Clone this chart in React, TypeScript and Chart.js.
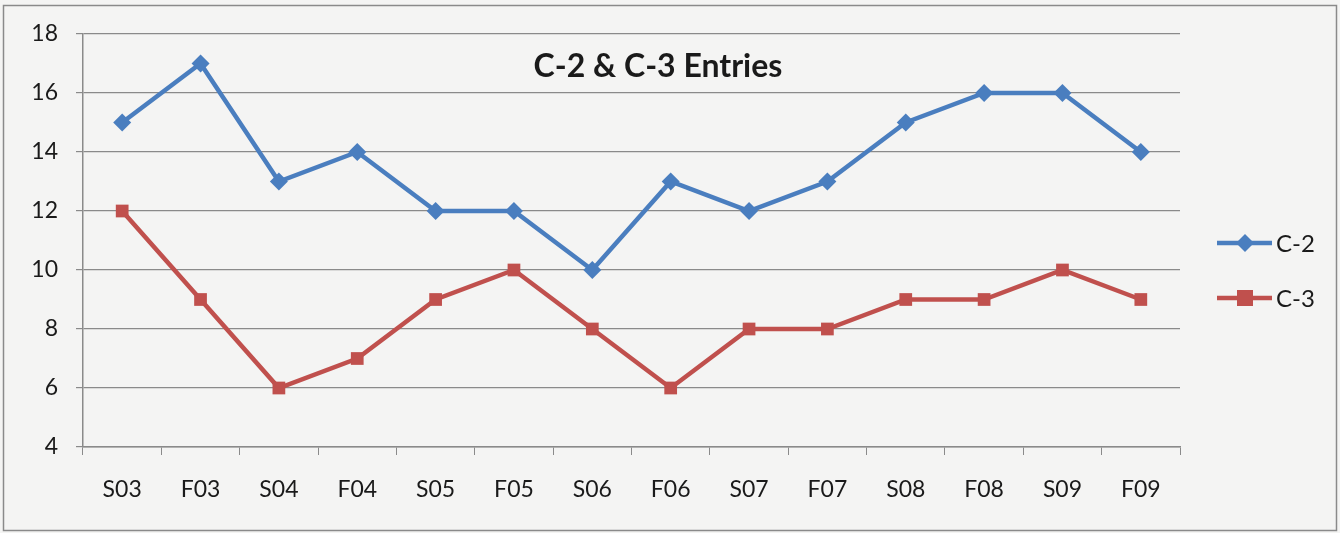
import React, { useEffect, useRef } from "react";
import { Chart, registerables } from "chart.js";

Chart.register(...registerables);

const categories = ["S03", "F03", "S04", "F04", "S05", "F05", "S06", "F06", "S07", "F07", "S08", "F08", "S09", "F09"];
const c2Values = [15, 17, 13, 14, 12, 12, 10, 13, 12, 13, 15, 16, 16, 14];
const c3Values = [12, 9, 6, 7, 9, 10, 8, 6, 8, 8, 9, 9, 10, 9];
const yTicks = [4, 6, 8, 10, 12, 14, 16, 18];
const titleText = "C-2 & C-3 Entries";
const seriesNames = ["C-2", "C-3"];

const FONT = "Lato, 'Open Sans', sans-serif";
const BLUE = "#4A7EBF";
const RED = "#C0504D";

const decorPlugin = {
  id: "decor",
  beforeDraw(chart: any) {
    const { ctx, width, height } = chart;
    ctx.save();
    ctx.fillStyle = "#f4f4f3";
    ctx.fillRect(0, 0, width, height);
    ctx.strokeStyle = "#8a8a8a";
    ctx.lineWidth = 1.5;
    ctx.strokeRect(3.5, 5.5, width - 7, height - 8);
    ctx.restore();
  },
  afterDraw(chart: any) {
    const { ctx } = chart;
    ctx.save();
    ctx.fillStyle = "#1a1a1a";
    ctx.font = `bold 32px ${FONT}`;
    ctx.textAlign = "center";
    ctx.textBaseline = "middle";
    ctx.fillText(titleText, 658, 67);

    const items = [
      { name: seriesNames[0], color: BLUE, y: 243, shape: "diamond" },
      { name: seriesNames[1], color: RED, y: 298, shape: "square" },
    ];
    for (const it of items) {
      ctx.strokeStyle = it.color;
      ctx.lineWidth = 4.5;
      ctx.beginPath();
      ctx.moveTo(1217, it.y);
      ctx.lineTo(1272, it.y);
      ctx.stroke();
      ctx.fillStyle = it.color;
      const cx = 1245;
      if (it.shape === "diamond") {
        ctx.beginPath();
        ctx.moveTo(cx, it.y - 9);
        ctx.lineTo(cx + 9, it.y);
        ctx.lineTo(cx, it.y + 9);
        ctx.lineTo(cx - 9, it.y);
        ctx.closePath();
        ctx.fill();
      } else {
        ctx.fillRect(cx - 8, it.y - 8, 16, 16);
      }
      ctx.fillStyle = "#1a1a1a";
      ctx.font = `24px ${FONT}`;
      ctx.textAlign = "left";
      ctx.textBaseline = "middle";
      ctx.fillText(it.name, 1276, it.y + 1);
    }
    ctx.restore();
  },
};

export default function App() {
  const ref = useRef<HTMLCanvasElement>(null);
  useEffect(() => {
    document.body.style.margin = "0";
    const chart = new Chart(ref.current!, {
      type: "line",
      data: {
        labels: categories,
        datasets: [
          {
            label: seriesNames[0],
            data: c2Values,
            borderColor: BLUE,
            backgroundColor: BLUE,
            borderWidth: 4.5,
            pointStyle: "rectRot",
            pointRadius: 9,
            pointBorderWidth: 0,
            tension: 0,
          },
          {
            label: seriesNames[1],
            data: c3Values,
            borderColor: RED,
            backgroundColor: RED,
            borderWidth: 4.5,
            pointStyle: "rect",
            pointRadius: 9,
            pointBorderWidth: 0,
            tension: 0,
          },
        ],
      },
      options: {
        responsive: false,
        animation: false,
        layout: { padding: { left: 0, right: 160, top: 34, bottom: 0 } },
        plugins: {
          legend: { display: false },
          title: { display: false },
          tooltip: { enabled: false },
        },
        scales: {
          x: {
            offset: true,
            afterFit: (scale: any) => {
              scale.height = 86;
            },
            grid: { offset: true, drawOnChartArea: false, color: "#8a8a8a", tickLength: 8 },
            border: { color: "#8a8a8a", width: 1.5 },
            ticks: { font: { family: FONT, size: 23 }, color: "#1a1a1a", padding: 21 },
          },
          y: {
            min: 4,
            max: 18,
            afterFit: (scale: any) => {
              scale.width = 83;
            },
            afterBuildTicks: (scale: any) => {
              scale.ticks = yTicks.map((v) => ({ value: v }));
            },
            grid: { color: "#8a8a8a", lineWidth: 1.2, tickLength: 7 },
            border: { color: "#8a8a8a", width: 1.5 },
            ticks: { font: { family: FONT, size: 23 }, color: "#1a1a1a", padding: 18 },
          },
        },
      },
      plugins: [decorPlugin],
    });
    return () => chart.destroy();
  }, []);
  return <canvas ref={ref} width={1340} height={533} style={{ display: "block" }} />;
}
